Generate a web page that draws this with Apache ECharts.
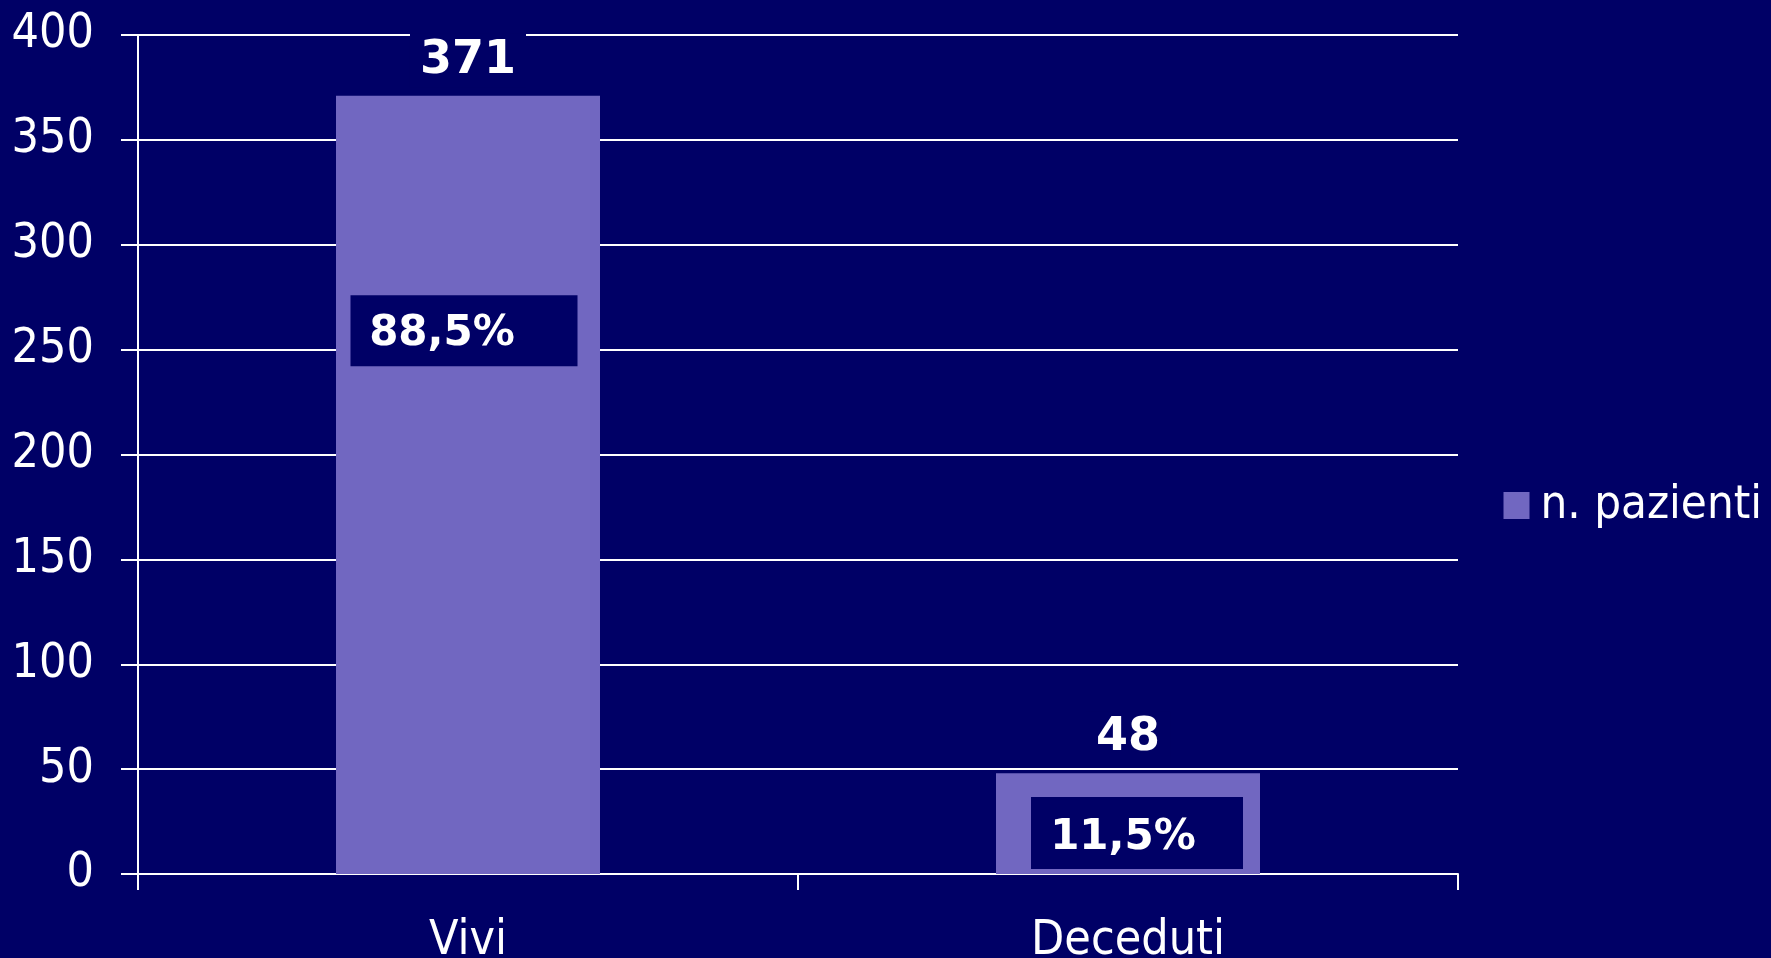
<!DOCTYPE html>
<html>
<head>
<meta charset="utf-8">
<script src="https://cdn.jsdelivr.net/npm/echarts@6/dist/echarts.min.js"></script>
<style>
html,body{margin:0;padding:0;background:#000066;}
#c{width:1771px;height:958px;}
</style>
</head>
<body>
<div id="c"></div>
<script>
var categories = ['Vivi', 'Deceduti'];
var patients = [371, 48];
var percentLabels = ['88,5%', '11,5%'];
var yTicks = [0, 50, 100, 150, 200, 250, 300, 350, 400];
var seriesName = 'n. pazienti';

var REG = "'DejaVu Sans Condensed', 'Liberation Sans', sans-serif";
var BOLD = "'DejaVu Sans', Verdana, sans-serif";
var BG = '#000066';
var BAR = '#7167C1';

var chart = echarts.init(document.getElementById('c'));
chart.setOption({
  backgroundColor: BG,
  animation: false,
  grid: { left: 138, right: 313, top: 35, bottom: 84, containLabel: false, outerBoundsMode: 'none' },
  legend: {
    data: [seriesName],
    right: 4, top: 477,
    icon: 'rect',
    itemWidth: 26, itemHeight: 27, itemGap: 10,
    textStyle: { color: '#ffffff', fontSize: 47, fontFamily: REG, padding: [0, 0, 0, 6] }
  },
  xAxis: {
    type: 'category',
    data: categories,
    axisLine: { lineStyle: { color: '#ffffff', width: 2 } },
    axisTick: { show: true, length: 16, lineStyle: { color: '#ffffff', width: 2 } },
    axisLabel: { color: '#ffffff', fontSize: 48, fontFamily: REG, margin: 44 }
  },
  yAxis: {
    type: 'value',
    min: yTicks[0], max: yTicks[yTicks.length - 1], interval: yTicks[1] - yTicks[0],
    axisLine: { show: true, lineStyle: { color: '#ffffff', width: 2 } },
    axisTick: { show: true, length: 17, lineStyle: { color: '#ffffff', width: 2 } },
    splitLine: { lineStyle: { color: '#ffffff', width: 2 } },
    axisLabel: { color: '#ffffff', fontSize: 48, fontFamily: REG, margin: 44, padding: [6, 0, 0, 0] }
  },
  series: [{
    name: seriesName,
    type: 'bar',
    data: patients,
    barWidth: '40%',
    itemStyle: { color: BAR },
    label: {
      show: true, position: 'top', distance: 8,
      color: '#ffffff', fontSize: 46, fontWeight: 'bold', fontFamily: BOLD,
      backgroundColor: BG, padding: [4, 10]
    },
    markPoint: {
      symbol: 'rect',
      itemStyle: { color: BG },
      label: { show: true, color: '#ffffff', fontSize: 42, fontWeight: 'bold', fontFamily: BOLD,
               formatter: function (p) { return p.name; } },
      data: [
        { name: percentLabels[0], coord: [categories[0], 259], symbolSize: [227, 71], symbolOffset: [-4, 0], label: { offset: [-22, 3] } },
        { name: percentLabels[1], coord: [categories[1], 19.5], symbolSize: [212, 72], symbolOffset: [9, 0], label: { offset: [-14, 5] } }
      ]
    }
  }]
});
</script>
</body>
</html>
